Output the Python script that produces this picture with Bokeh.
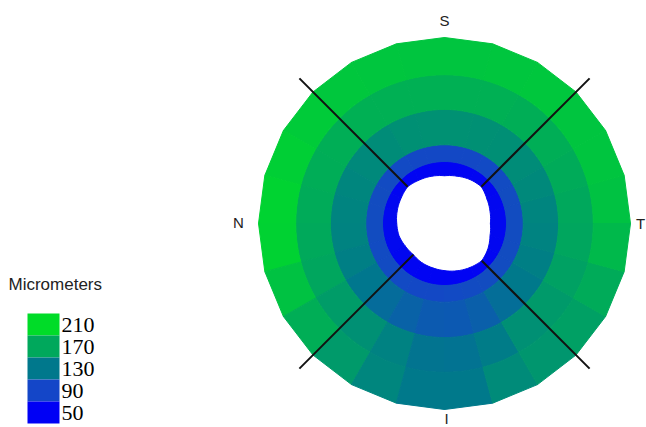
import numpy as np
from bokeh.plotting import figure
from bokeh.models import Range1d, ColumnDataSource, LinearColorMapper
from bokeh.transform import transform
from bokeh.core.properties import value
from bokeh.embed import file_html
from bokeh.resources import INLINE

# ---------------- data ----------------
sector_deg = 15  # 24 sectors, sector k spans k*15 .. (k+1)*15 deg (CCW from temporal side)
ring_edges_mm = [1.0, 1.27, 1.84, 2.40, 3.0]          # outer edge of each ring
hole_edge_mm = [0.74, 0.76, 0.79, 0.84, 0.82, 0.79, 0.77, 0.79,
                0.81, 0.84, 0.81, 0.79, 0.77, 0.76, 0.73, 0.71,
                0.73, 0.74, 0.76, 0.79, 0.82, 0.85, 0.81, 0.76]  # inner boundary at each sector edge

ring0 = [54, 54, 53, 53, 52, 52, 52, 52, 52, 53, 54, 55,
         55, 55, 54, 53, 52, 52, 52, 52, 53, 53, 54, 54]
ring1 = [95, 95, 94, 93, 92, 92, 92, 92, 93, 94, 95, 95,
         95, 94, 94, 93, 92, 92, 93, 94, 95, 95, 95, 95]
ring2 = [141, 144, 147, 149, 150, 151, 151, 150, 147, 144, 142, 140,
         139, 136, 129, 120, 112, 106, 105, 110, 122, 131, 136, 139]
ring3 = [170, 172, 175, 175, 176, 176, 176, 176, 176, 175, 174, 172,
         171, 168, 160, 150, 138, 127, 126, 133, 150, 158, 164, 168]
ring4 = [190, 192, 192, 194, 193, 192, 192, 193, 194, 197, 200, 203,
         202, 190, 175, 158, 142, 131, 131, 146, 155, 163, 172, 183]
thickness = [ring0, ring1, ring2, ring3, ring4]

legend_title = "Micrometers"
legend_values = [210, 170, 130, 90, 50]
legend_colors = ["#00DC28", "#00A85C", "#00788C", "#1446C8", "#0000F5"]

diagonal_deg = [45, 135, 225, 315]
diagonal_outer_mm = 3.31

# ---------------- layout helpers ----------------
W, H = 646, 427
PX = 62.0                      # pixels per mm
CX, CY = 444, 223              # centre of the map in picture pixels


def X(sx):  # picture px -> data
    return (sx - CX) / PX


def Y(sy):
    return (CY - sy) / PX


p = figure(width=W, height=H,
           x_range=Range1d(-CX / PX, (W - CX) / PX),
           y_range=Range1d(-(H - CY) / PX, CY / PX),
           output_backend="svg", toolbar_location=None, min_border=0,
           x_axis_location=None, y_axis_location=None,
           background_fill_color="white", border_fill_color="white")
p.grid.visible = False
p.outline_line_color = None

# colour map interpolated through the legend colours
asc_vals = legend_values[::-1]
asc_cols = legend_colors[::-1]
rgb = np.array([[int(c[i:i + 2], 16) for i in (1, 3, 5)] for c in asc_cols], dtype=float)
grid_vals = np.arange(asc_vals[0], asc_vals[-1] + 1)
palette = ["#%02x%02x%02x" % tuple(int(round(np.interp(g, asc_vals, rgb[:, ch]))) for ch in range(3))
           for g in grid_vals]
mapper = LinearColorMapper(palette=palette, low=asc_vals[0], high=asc_vals[-1])

# ---------------- map cells ----------------
n_sec = len(ring0)
n_rings = len(thickness)
xs, ys, vals = [], [], []
for j, ring in enumerate(thickness):
    for k in range(n_sec):
        a0 = np.radians(k * sector_deg)
        a1 = np.radians((k + 1) * sector_deg)
        t = np.linspace(0, 1, 6)
        angs = a0 + (a1 - a0) * t
        if j == 0:
            rin = hole_edge_mm[k] + (hole_edge_mm[(k + 1) % n_sec] - hole_edge_mm[k]) * t
        else:
            rin = np.full_like(t, ring_edges_mm[j - 1])
        ro = ring_edges_mm[j]
        if j == n_rings - 1:   # outer boundary is a polygon through the sector edges
            out_a = np.array([a0, a1])
            out_r = np.array([ro, ro])
        else:
            out_a = angs
            out_r = np.full_like(t, ro)
        px_ = list(out_r * np.cos(out_a)) + list((rin * np.cos(angs))[::-1])
        py_ = list(out_r * np.sin(out_a)) + list((rin * np.sin(angs))[::-1])
        xs.append(px_)
        ys.append(py_)
        vals.append(ring[k])

src = ColumnDataSource(dict(xs=xs, ys=ys, val=vals))
p.patches("xs", "ys", source=src, fill_color=transform("val", mapper),
          line_color=transform("val", mapper), line_width=1)

# ---------------- diagonal lines ----------------
d_idx = [int(d / sector_deg) for d in diagonal_deg]
ang = np.radians(diagonal_deg)
r_in = np.array([hole_edge_mm[i] for i in d_idx])
p.segment(x0=r_in * np.cos(ang), y0=r_in * np.sin(ang),
          x1=diagonal_outer_mm * np.cos(ang), y1=diagonal_outer_mm * np.sin(ang),
          line_color="#111111", line_width=2)

# ---------------- direction labels ----------------
lab_font = value("Liberation Sans")
for lab, sx, sy in [("S", 444, 20), ("N", 238, 222), ("T", 640, 223), ("I", 446, 418)]:
    p.text(x=[X(sx)], y=[Y(sy)], text=[lab], text_align="center", text_baseline="middle",
           text_font=lab_font, text_font_size="15px", text_color="#222222")

# ---------------- legend ----------------
p.text(x=[X(8)], y=[Y(284)], text=[legend_title], text_align="left", text_baseline="middle",
       text_font=lab_font, text_font_size="17px", text_color="#222222")
tops = [313 + 22 * i for i in range(len(legend_values))]
p.quad(left=[X(27)] * len(tops), right=[X(59)] * len(tops),
       top=[Y(t) for t in tops], bottom=[Y(t + 22) for t in tops],
       fill_color=legend_colors, line_color=None)
p.text(x=[X(61)] * len(tops), y=[Y(t + 11) for t in tops], text=[str(v) for v in legend_values],
       text_align="left", text_baseline="middle", text_font=value("Liberation Serif"),
       text_font_size="22px", text_color="#000000")

open("out.html", "w").write(file_html(p, INLINE))
